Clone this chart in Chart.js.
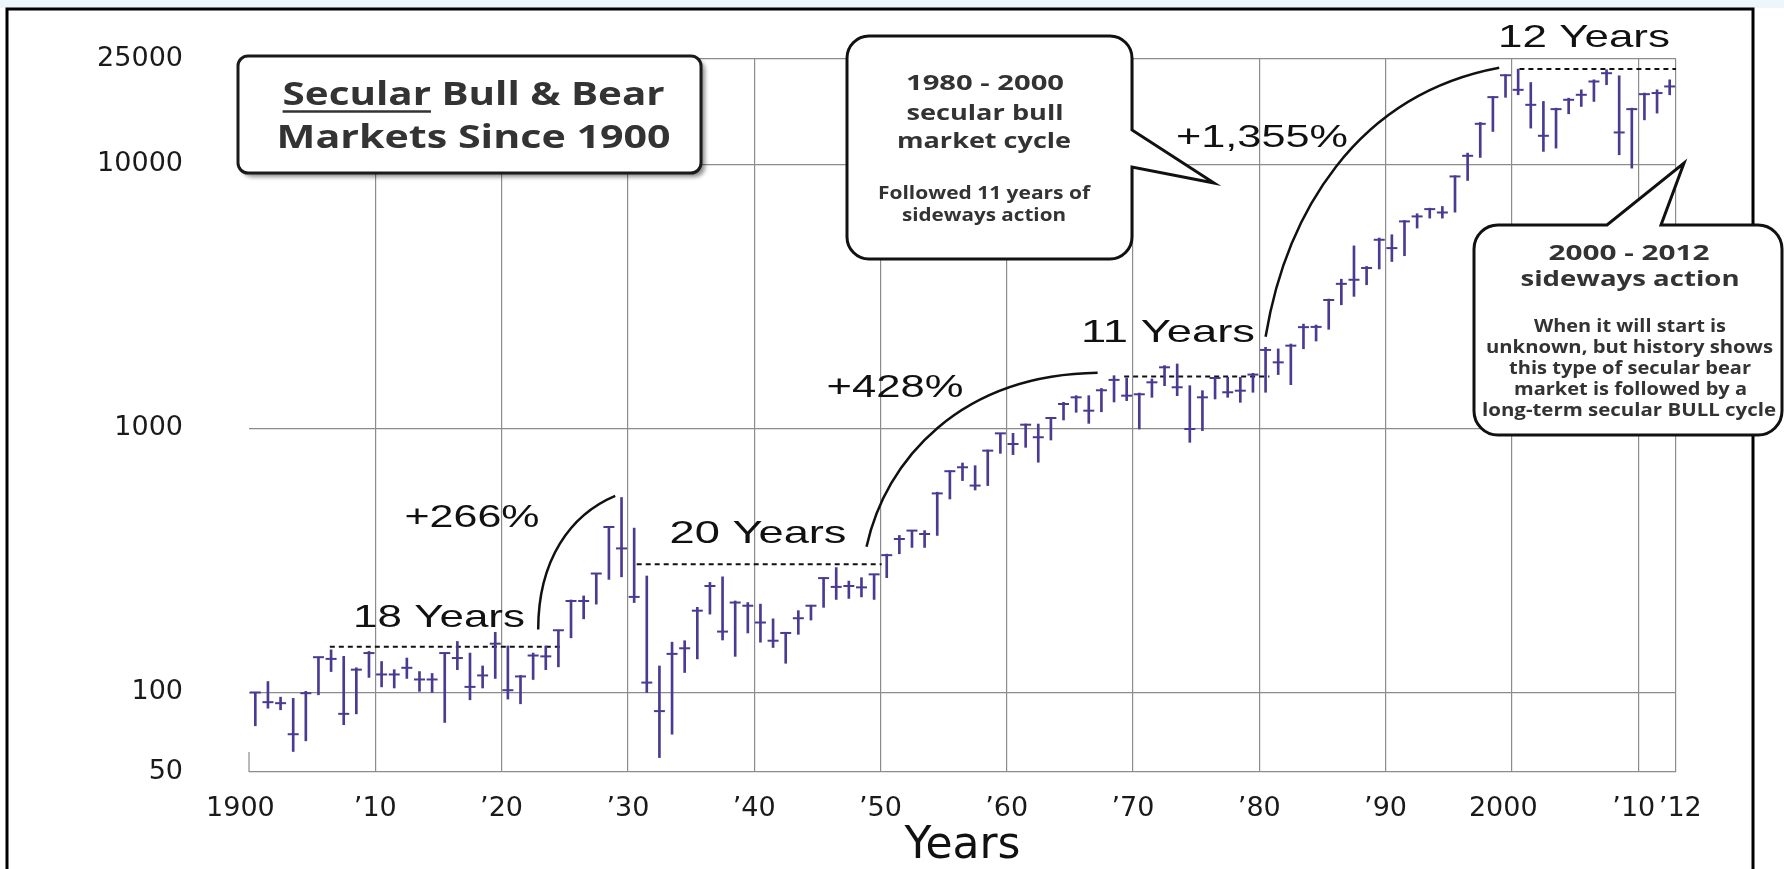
<!DOCTYPE html>
<html>
<head>
<meta charset="utf-8">
<title>Secular Bull &amp; Bear Markets Since 1900</title>
<script src="https://cdn.jsdelivr.net/npm/chart.js@4.4.1/dist/chart.umd.min.js"></script>
<style>
  html, body { margin: 0; padding: 0; background: #fff; }
  canvas { display: block; }
</style>
</head>
<body>
<canvas id="dowChart" width="1784" height="869"></canvas>
<script>
// yearly high / low / close (log scale)
const years = [
    1900, 1901, 1902, 1903, 1904, 1905, 1906, 1907, 1908, 1909,
    1910, 1911, 1912, 1913, 1914, 1915, 1916, 1917, 1918, 1919,
    1920, 1921, 1922, 1923, 1924, 1925, 1926, 1927, 1928, 1929,
    1930, 1931, 1932, 1933, 1934, 1935, 1936, 1937, 1938, 1939,
    1940, 1941, 1942, 1943, 1944, 1945, 1946, 1947, 1948, 1949,
    1950, 1951, 1952, 1953, 1954, 1955, 1956, 1957, 1958, 1959,
    1960, 1961, 1962, 1963, 1964, 1965, 1966, 1967, 1968, 1969,
    1970, 1971, 1972, 1973, 1974, 1975, 1976, 1977, 1978, 1979,
    1980, 1981, 1982, 1983, 1984, 1985, 1986, 1987, 1988, 1989,
    1990, 1991, 1992, 1993, 1994, 1995, 1996, 1997, 1998, 1999,
    2000, 2001, 2002, 2003, 2004, 2005, 2006, 2007, 2008, 2009,
    2010, 2011, 2012
];
const highs = [
    100, 110, 96, 95, 101, 136, 145, 137, 124, 143,
    131, 122, 135, 120, 118, 141, 156, 141, 126, 169,
    150, 116, 141, 150, 172, 224, 232, 282, 423, 547,
    419, 276, 126, 155, 157, 210, 261, 274, 222, 219,
    216, 190, 169, 204, 214, 272, 297, 264, 272, 280,
    334, 393, 410, 410, 573, 691, 739, 722, 828, 957,
    957, 1038, 1038, 1100, 1254, 1329, 1329, 1415, 1582, 1550,
    1360, 1537, 1727, 1752, 1450, 1388, 1560, 1560, 1560, 1615,
    2025, 1998, 2085, 2480, 2460, 3085, 3668, 4904, 4098, 5252,
    5405, 6120, 6489, 6812, 6914, 9034, 11006, 14380, 18030, 21800,
    22890, 20370, 17270, 16290, 17770, 19110, 20850, 22760, 21600, 16290,
    18580, 19110, 20850
];
const lows = [
    74.8, 87.2, 86, 59.8, 65.6, 98, 120, 75.5, 83, 114,
    105, 104, 113, 101, 100, 77, 122, 93.8, 104, 113,
    94.4, 90.6, 112, 122, 125, 161, 190, 216, 268, 274,
    219, 100, 56.7, 69.5, 119, 134, 198, 158, 137, 168,
    155, 148, 129, 166, 188, 210, 225, 227, 230, 225,
    272, 335, 354, 354, 393, 540, 634, 584, 607, 804,
    795, 847, 744, 903, 1075, 1150, 1044, 1155, 1258, 1273,
    994, 1310, 1450, 1329, 885, 980, 1291, 1310, 1254, 1369,
    1369, 1597, 1463, 2000, 2140, 2370, 2935, 3158, 3495, 4010,
    4280, 4500, 5727, 6247, 6247, 6580, 8673, 10600, 13290, 17900,
    18300, 13690, 11170, 11500, 15510, 16530, 17270, 19980, 10850, 9657,
    14710, 15600, 18300
];
const closes = [
    100, 91.9, 91.1, 69.5, 99.4, 136, 134, 83, 122, 141,
    117, 117, 124, 112, 112, 141, 135, 105, 116, 153,
    102, 115, 138, 137, 172, 222, 222, 282, 423, 351,
    230, 109, 85, 140, 147, 204, 253, 170, 219, 213,
    184, 157, 168, 191, 213, 271, 251, 253, 250, 280,
    331, 381, 410, 398, 567, 688, 712, 607, 823, 957,
    872, 1032, 925, 1094, 1236, 1310, 1166, 1393, 1525, 1329,
    1345, 1493, 1702, 1430, 994, 1310, 1550, 1369, 1388, 1597,
    1980, 1777, 2055, 2415, 2420, 3060, 3522, 3650, 4045, 5172,
    4810, 6070, 6340, 6756, 6560, 8982, 10753, 14210, 17930, 21700,
    19110, 16770, 12800, 16150, 17520, 18300, 20550, 22090, 13180, 16150,
    18400, 18580, 19680
];

const yTicks = [50, 100, 1000, 10000, 25000];
const xTicks = [1900, 1910, 1920, 1930, 1940, 1950, 1960, 1970, 1980, 1990, 2000, 2010, 2013];
const xTickLabels = ['1900  ', '’10', '’20', '’30', '’40', '’50', '’60', '’70', '’80', '’90', '2000  ', '’10 ', ' ’12'];

// dashed "sideways" levels (start year, end year, level)
const flatStart = [1906.4, 1930.7, 1969.3, 2000.6];
const flatEnd = [1924.8, 1950.1, 1980.8, 2013];
const flatLevel = [149, 306, 1569, 22890];

// gain arcs as bezier points in (year, value)
const arcs = [
    [[1922.9, 173], [1922.9, 318], [1925.45, 471], [1929.0, 555]],
    [[1948.9, 356], [1950.4, 760], [1956.3, 1594], [1967.2, 1622]],
    [[1980.5, 2220], [1982.1, 6428], [1987.6, 18300], [1999.0, 23150]]
];

const PURPLE = '#4b3a92';
const GRID = '#8c8c8c';

function stretchText(ctx, str, cx, y, font, width, color) {
    ctx.save();
    ctx.font = font;
    const sx = width / ctx.measureText(str).width;
    ctx.translate(cx, y);
    ctx.scale(sx, 1);
    ctx.fillStyle = color;
    ctx.textAlign = 'center';
    ctx.textBaseline = 'alphabetic';
    ctx.fillText(str, 0, 0);
    ctx.restore();
    return sx;
}

function calloutPath(ctx, x0, y0, x1, y1, r, side, tail) {
    ctx.beginPath();
    ctx.moveTo(x0 + r, y0);
    if (side === 'top') tail.forEach(p => ctx.lineTo(p[0], p[1]));
    ctx.lineTo(x1 - r, y0);
    ctx.arcTo(x1, y0, x1, y0 + r, r);
    if (side === 'right') tail.forEach(p => ctx.lineTo(p[0], p[1]));
    ctx.lineTo(x1, y1 - r);
    ctx.arcTo(x1, y1, x1 - r, y1, r);
    ctx.lineTo(x0 + r, y1);
    ctx.arcTo(x0, y1, x0, y1 - r, r);
    ctx.lineTo(x0, y0 + r);
    ctx.arcTo(x0, y0, x0 + r, y0, r);
    ctx.closePath();
}

const bigLabels = [
    ['+266%', 472, 527, 135],
    ['18 Years', 439, 627, 172],
    ['20 Years', 758, 543, 177],
    ['+428%', 895, 397, 137],
    ['11 Years', 1168, 342, 174],
    ['+1,355%', 1262, 147, 172],
    ['12 Years', 1584, 47, 172]
];

const decorations = {
    id: 'decorations',
    beforeDraw(chart) {
        const ctx = chart.ctx;
        ctx.save();
        ctx.fillStyle = '#edf6fa';
        ctx.fillRect(0, 0, chart.width, 8);
        ctx.strokeStyle = '#000';
        ctx.lineWidth = 3;
        ctx.strokeRect(7, 9, 1746, 900);
        ctx.restore();
    },
    beforeDatasetsDraw(chart) {
        // short stub of the left axis
        const ctx = chart.ctx, a = chart.chartArea;
        ctx.save();
        ctx.strokeStyle = GRID;
        ctx.lineWidth = 1.2;
        ctx.beginPath();
        ctx.moveTo(a.left, a.bottom);
        ctx.lineTo(a.left, a.bottom - 20);
        ctx.stroke();
        ctx.restore();
    },
    afterDatasetsDraw(chart) {
        const ctx = chart.ctx, xs = chart.scales.x, ys = chart.scales.y;
        ctx.save();
        ctx.strokeStyle = '#111';
        ctx.lineWidth = 2.5;
        arcs.forEach(arc => {
            const p = arc.map(pt => [xs.getPixelForValue(pt[0]), ys.getPixelForValue(pt[1])]);
            ctx.beginPath();
            ctx.moveTo(p[0][0], p[0][1]);
            ctx.bezierCurveTo(p[1][0], p[1][1], p[2][0], p[2][1], p[3][0], p[3][1]);
            ctx.stroke();
        });
        ctx.restore();
    },
    afterDraw(chart) {
        const ctx = chart.ctx;
        bigLabels.forEach(l => stretchText(ctx, l[0], l[1], l[2], '32px "Liberation Sans"', l[3], '#111'));

        // title box
        ctx.save();
        ctx.shadowColor = 'rgba(0,0,0,0.45)';
        ctx.shadowOffsetX = 4;
        ctx.shadowOffsetY = 4;
        ctx.shadowBlur = 4;
        calloutPath(ctx, 238, 56, 701, 173, 10);
        ctx.fillStyle = '#fff';
        ctx.fill();
        ctx.restore();
        ctx.save();
        calloutPath(ctx, 238, 56, 701, 173, 10);
        ctx.lineWidth = 3;
        ctx.strokeStyle = '#1a1a1a';
        ctx.stroke();
        ctx.restore();
        const titleFont = 'bold 33px "Open Sans"';
        const sx = stretchText(ctx, 'Secular Bull & Bear', 473.6, 105, titleFont, 382, '#333');
        stretchText(ctx, 'Markets Since 1900', 473.6, 148, titleFont, 394, '#333');
        ctx.save();
        ctx.font = titleFont;
        const secW = ctx.measureText('Secular').width * sx;
        ctx.strokeStyle = '#333';
        ctx.lineWidth = 2.5;
        ctx.beginPath();
        ctx.moveTo(473.6 - 191, 111.5);
        ctx.lineTo(473.6 - 191 + secW, 111.5);
        ctx.stroke();
        ctx.restore();

        // 1980 - 2000 callout
        ctx.save();
        calloutPath(ctx, 847, 36, 1132, 259, 22, 'right', [[1132, 130], [1214, 183], [1132, 167]]);
        ctx.fillStyle = '#fff';
        ctx.fill();
        ctx.lineWidth = 3;
        ctx.strokeStyle = '#111';
        ctx.stroke();
        ctx.restore();
        const big = 'bold 22px "Open Sans"', small = 'bold 17px "Open Sans"';
        stretchText(ctx, '1980 - 2000', 985, 90, big, 158, '#333');
        stretchText(ctx, 'secular bull', 985, 119.5, big, 157, '#333');
        stretchText(ctx, 'market cycle', 984, 147.5, big, 174, '#333');
        stretchText(ctx, 'Followed 11 years of', 984, 199, small, 212, '#333');
        stretchText(ctx, 'sideways action', 984, 220.5, small, 164, '#333');

        // 2000 - 2012 callout
        ctx.save();
        calloutPath(ctx, 1474, 225, 1782, 435, 24, 'top', [[1607, 225], [1684, 163], [1661, 225]]);
        ctx.fillStyle = '#fff';
        ctx.fill();
        ctx.lineWidth = 3;
        ctx.strokeStyle = '#111';
        ctx.stroke();
        ctx.restore();
        stretchText(ctx, '2000 - 2012', 1629, 260, big, 161, '#333');
        stretchText(ctx, 'sideways action', 1630, 286, big, 219, '#333');
        stretchText(ctx, 'When it will start is', 1630, 331.5, small, 192, '#333');
        stretchText(ctx, 'unknown, but history shows', 1629.5, 353, small, 287, '#333');
        stretchText(ctx, 'this type of secular bear', 1630, 374, small, 242, '#333');
        stretchText(ctx, 'market is followed by a', 1630.5, 395, small, 233, '#333');
        stretchText(ctx, 'long-term secular BULL cycle', 1629, 415.5, small, 294, '#333');
    }
};

const flatDatasets = flatLevel.map((level, i) => ({
    type: 'line',
    label: 'flat ' + i,
    data: [{ x: flatStart[i], y: level }, { x: flatEnd[i], y: level }],
    borderColor: '#111',
    borderWidth: 2,
    borderDash: [5, 4],
    pointRadius: 0,
    fill: false
}));

new Chart(document.getElementById('dowChart'), {
    type: 'bar',
    data: {
        datasets: [
            {
                type: 'scatter',
                label: 'Close',
                data: years.map((yr, i) => ({ x: yr + 0.5, y: closes[i] })),
                showLine: false,
                pointStyle: 'line',
                pointRadius: 5.5,
                pointBorderWidth: 2,
                pointBorderColor: PURPLE,
                pointBackgroundColor: PURPLE
            },
            {
                type: 'bar',
                label: 'High - Low',
                data: years.map((yr, i) => ({ x: yr + 0.5, y: [lows[i], highs[i]] })),
                backgroundColor: PURPLE,
                barThickness: 2,
                grouped: false
            },
            ...flatDatasets
        ]
    },
    options: {
        responsive: false,
        animation: false,
        events: [],
        devicePixelRatio: 1,
        layout: { padding: { top: 59, right: 108, bottom: 0, left: 0 } },
        plugins: {
            legend: { display: false },
            tooltip: { enabled: false }
        },
        scales: {
            x: {
                type: 'linear',
                min: 1900,
                max: 2013,
                offset: false,
                afterBuildTicks: s => { s.ticks = xTicks.map(v => ({ value: v })); },
                afterFit: s => { s.height = 97; s.paddingLeft = 0; s.paddingRight = 0; },
                ticks: {
                    autoSkip: false,
                    maxRotation: 0,
                    padding: 21,
                    color: '#1a1a1a',
                    font: { family: 'DejaVu Sans', size: 27 },
                    callback: v => xTickLabels[xTicks.indexOf(v)]
                },
                grid: {
                    offset: false,
                    drawTicks: false,
                    lineWidth: 1.2,
                    color: c => (c.tick && c.tick.value === 1900) ? 'rgba(0,0,0,0)' : GRID
                },
                border: { display: false },
                title: {
                    display: true,
                    text: 'Years',
                    color: '#111',
                    padding: 0,
                    font: { family: 'DejaVu Sans', size: 44, lineHeight: 1 }
                }
            },
            y: {
                type: 'logarithmic',
                min: 50,
                max: 25000,
                beginAtZero: false,
                afterBuildTicks: s => { s.ticks = yTicks.map(v => ({ value: v })); },
                afterFit: s => { s.width = 249; s.paddingTop = 0; s.paddingBottom = 0; },
                ticks: {
                    padding: 66,
                    color: '#1a1a1a',
                    font: { family: 'DejaVu Sans', size: 27 },
                    callback: v => String(v)
                },
                grid: { drawTicks: false, lineWidth: 1.2, color: GRID },
                border: { display: false }
            }
        }
    },
    plugins: [decorations]
});
</script>
</body>
</html>
